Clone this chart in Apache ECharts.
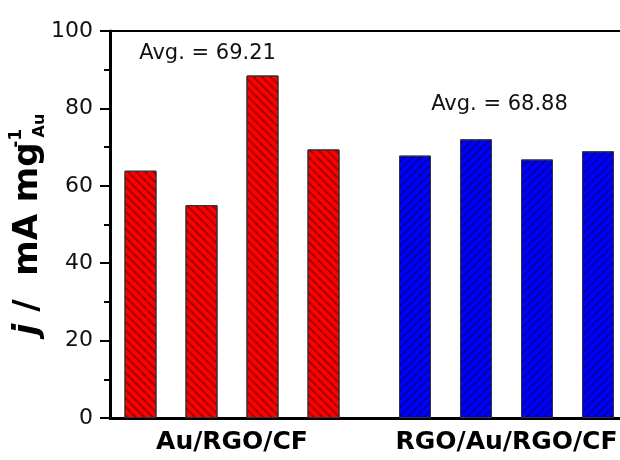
<!DOCTYPE html>
<html>
<head>
<meta charset="utf-8">
<script src="https://cdn.jsdelivr.net/npm/echarts@6/dist/echarts.min.js"></script>
<style>html,body{margin:0;padding:0;background:#fff}#c{width:620px;height:460px}</style>
</head>
<body>
<div id="c"></div>
<script>
// ---- data ----
var groupNames = ['Au/RGO/CF', 'RGO/Au/RGO/CF'];
var auRgoCf = [63.9, 55.0, 88.5, 69.4];
var rgoAuRgoCf = [67.8, 72.0, 66.8, 68.9];
var avgLabels = ['Avg. = 69.21', 'Avg. = 68.88'];
var yTicks = [0, 20, 40, 60, 80, 100];

// ---- build ----
var groupColors = ['#ff0000', '#0000ff'];
var hatchRot = [Math.PI / 4, -Math.PI / 4];
var groups = [auRgoCf, rgoAuRgoCf];
var groupStart = [1, 10];   // slot index of first bar of each group
var barData = [];
groups.forEach(function (vals, g) {
  vals.forEach(function (v, i) {
    barData.push({
      value: [groupStart[g] + 2 * i, v],
      itemStyle: {
        color: groupColors[g],
        borderColor: '#333',
        borderWidth: 1,
        decal: {
          symbol: 'rect',
          symbolSize: 1,
          dashArrayX: [1, 0],
          dashArrayY: [1.2, 3.8],
          rotation: hatchRot[g],
          color: 'rgba(0,0,0,0.36)'
        }
      }
    });
  });
});
var labelAt = {};
groups.forEach(function (vals, g) { labelAt[groupStart[g] + vals.length - 1] = groupNames[g]; });

var FONT = 'DejaVu Sans';
var chart = echarts.init(document.getElementById('c'), null, {renderer: 'canvas'});
chart.setOption({
  animation: false,
  backgroundColor: '#fff',
  grid: {left: 110, top: 31, width: 518.5, height: 387, outerBoundsMode: 'none', containLabel: false,
    show: true, borderColor: '#000', borderWidth: 2, backgroundColor: 'transparent'},
  xAxis: {
    type: 'value', min: 0, max: 17, interval: 1,
    axisLine: {show: true, lineStyle: {color: '#000', width: 3}},
    axisTick: {show: false},
    splitLine: {show: false},
    axisLabel: {
      margin: 12, fontFamily: FONT, fontWeight: 'bold', fontSize: 25, color: '#000',
      formatter: function (v) { return labelAt[v] || ''; }
    }
  },
  yAxis: {
    type: 'value', min: yTicks[0], max: yTicks[yTicks.length - 1], interval: yTicks[1] - yTicks[0],
    axisLine: {show: true, lineStyle: {color: '#000', width: 3}},
    axisTick: {show: true, inside: false, length: 10, lineStyle: {color: '#000', width: 2}},
    minorTick: {show: true, splitNumber: 2, length: 6, lineStyle: {color: '#000', width: 2}},
    splitLine: {show: false},
    minorSplitLine: {show: false},
    axisLabel: {margin: 17, fontFamily: FONT, fontSize: 22, color: '#111'},
    name: '{i|j}{b| /  mA mg}{sup|-1}{sub|Au}',
    nameLocation: 'middle',
    nameRotate: 90,
    nameGap: 62,
    nameMoveOverlap: false,
    nameTextStyle: {
      fontFamily: FONT, fontWeight: 'bold', fontSize: 34, color: '#000',
      rich: {
        i: {fontFamily: FONT, fontWeight: 'bold', fontStyle: 'italic', fontSize: 34, color: '#000', lineHeight: 40},
        b: {fontFamily: FONT, fontWeight: 'bold', fontSize: 34, color: '#000', lineHeight: 40},
        sup: {fontFamily: FONT, fontWeight: 'bold', fontSize: 17, color: '#000', verticalAlign: 'top', lineHeight: 40, width: 2, align: 'left', overflow: 'none', padding: [0, 0, 0, 3]},
        sub: {fontFamily: FONT, fontWeight: 'bold', fontSize: 16, color: '#000', verticalAlign: 'bottom', lineHeight: 40}
      }
    }
  },
  series: [{
    type: 'bar',
    barWidth: 32,
    data: barData,
    markPoint: {
      symbol: 'rect', symbolSize: 0,
      label: {show: true, position: 'inside', fontFamily: FONT, fontSize: 21, color: '#111',
        formatter: function (p) { return p.name; }},
      data: [
        {name: avgLabels[0], coord: [3.2, 94.3]},
        {name: avgLabels[1], coord: [12.77, 80.9]}
      ]
    }
  }]
});
</script>
</body>
</html>
